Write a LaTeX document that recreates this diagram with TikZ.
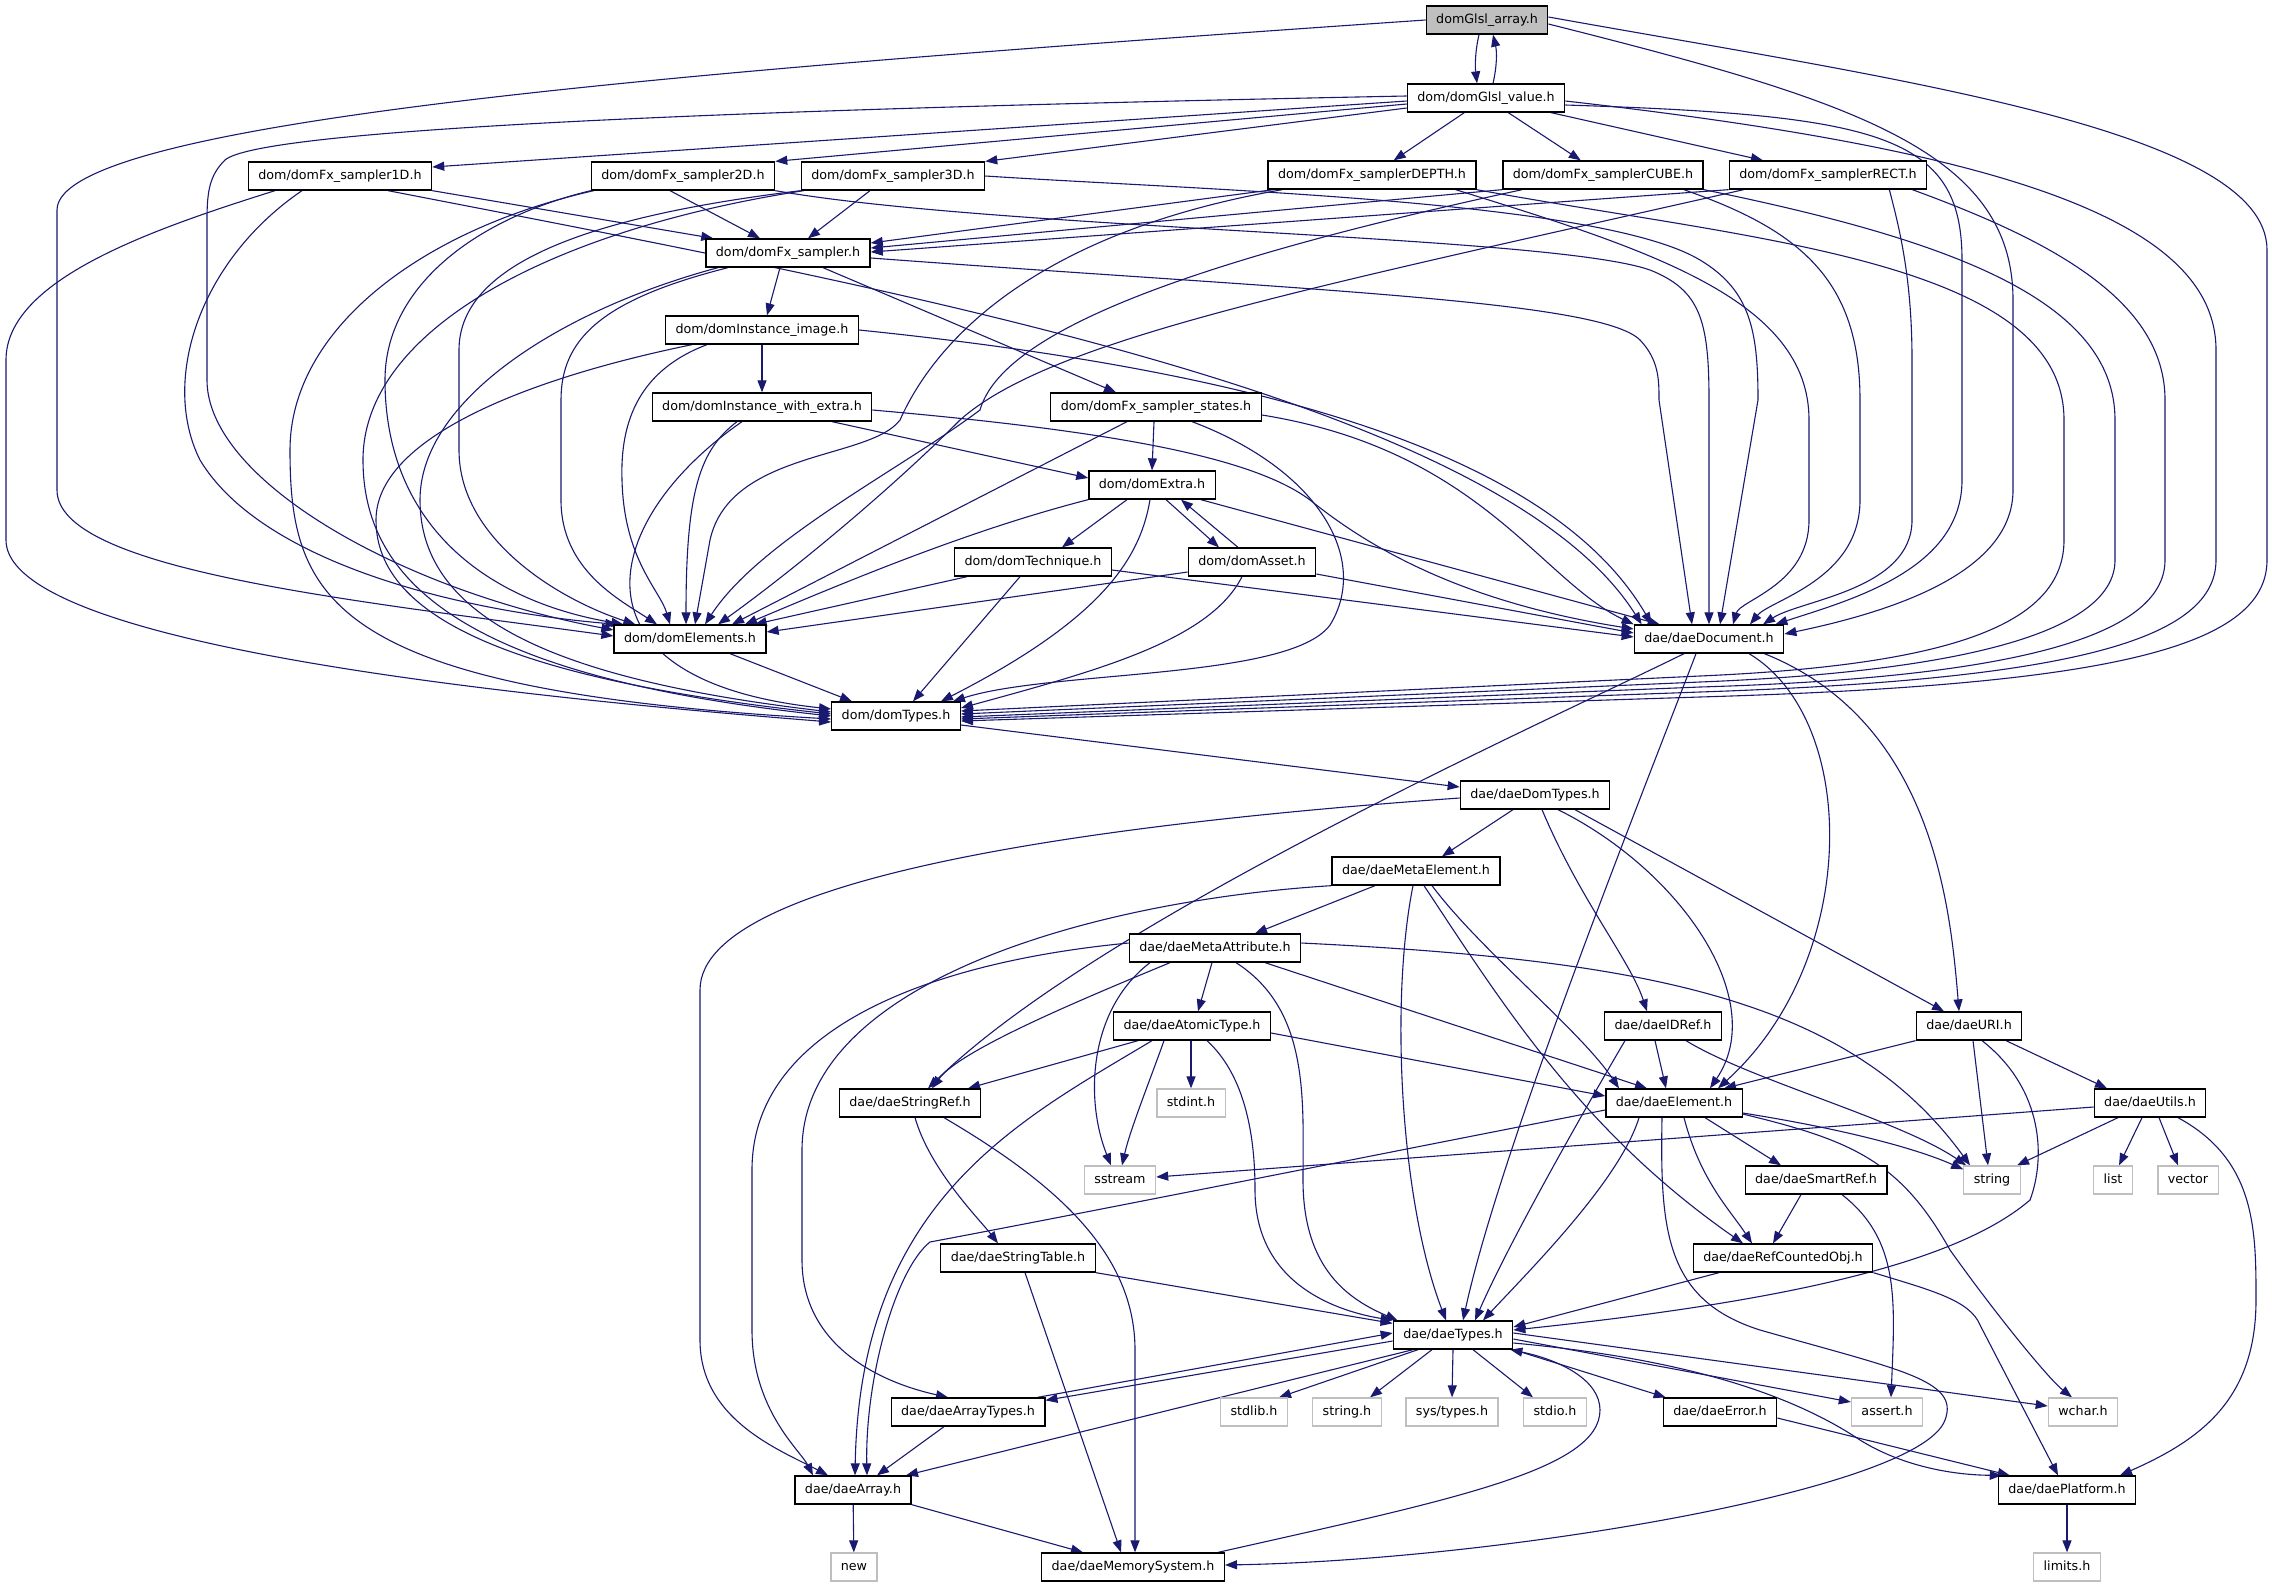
\documentclass[tikz,border=0pt]{standalone}
\usepackage{fontspec}
\newfontfamily\dvs{DejaVu Sans}
\usetikzlibrary{arrows.meta,backgrounds}
\definecolor{edgeblue}{RGB}{25,25,112}
\definecolor{sysgray}{RGB}{191,191,191}
\definecolor{rootgray}{RGB}{191,191,191}
\tikzset{
  nd/.style={draw=black, line width=1.3pt, fill=white, minimum height=28pt, inner xsep=10pt, inner ysep=0pt, text height=9.5pt, text depth=2.7pt, font=\dvs\fontsize{12.7pt}{15pt}\selectfont},
  sysnd/.style={nd, draw=sysgray},
  rootnd/.style={nd, fill=rootgray},
  edg/.style={draw=edgeblue, line width=1.1pt, -{Triangle[length=12pt,width=9pt]}},
}
\begin{document}
\begin{tikzpicture}[x=1pt,y=-1pt]
\useasboundingbox (0,0) rectangle (2272,1587);
% nodes
\node[rootnd] (arr) at (1487,20) {domGlsl\_array.h};
\node[nd] (val) at (1486,98) {dom/domGlsl\_value.h};
\node[nd] (s1) at (340,176) {dom/domFx\_sampler1D.h};
\node[nd] (s2) at (683,176) {dom/domFx\_sampler2D.h};
\node[nd] (s3) at (893,176) {dom/domFx\_sampler3D.h};
\node[nd] (sD) at (1372,175) {dom/domFx\_samplerDEPTH.h};
\node[nd] (sC) at (1603,175) {dom/domFx\_samplerCUBE.h};
\node[nd] (sR) at (1828,175) {dom/domFx\_samplerRECT.h};
\node[nd] (smp) at (788,253) {dom/domFx\_sampler.h};
\node[nd] (img) at (762,330) {dom/domInstance\_image.h};
\node[nd] (iwe) at (762,407) {dom/domInstance\_with\_extra.h};
\node[nd] (sst) at (1156,407) {dom/domFx\_sampler\_states.h};
\node[nd] (ext) at (1152,485) {dom/domExtra.h};
\node[nd] (tec) at (1033,562) {dom/domTechnique.h};
\node[nd] (ast) at (1252,562) {dom/domAsset.h};
\node[nd] (ele) at (690,639) {dom/domElements.h};
\node[nd] (doc) at (1709,639) {dae/daeDocument.h};
\node[nd] (dty) at (896,716) {dom/domTypes.h};
\node[nd] (ddt) at (1535,795) {dae/daeDomTypes.h};
\node[nd] (mel) at (1416,871) {dae/daeMetaElement.h};
\node[nd] (mat) at (1215,948) {dae/daeMetaAttribute.h};
\node[nd] (aty) at (1192,1026) {dae/daeAtomicType.h};
\node[nd] (idr) at (1663,1026) {dae/daeIDRef.h};
\node[nd] (uri) at (1969,1026) {dae/daeURI.h};
\node[nd] (sref) at (910,1103) {dae/daeStringRef.h};
\node[sysnd] (hstdint) at (1191,1103) {stdint.h};
\node[nd] (del) at (1674,1103) {dae/daeElement.h};
\node[nd] (utl) at (2150,1103) {dae/daeUtils.h};
\node[sysnd] (hsstream) at (1120,1180) {sstream};
\node[nd] (smart) at (1816,1180) {dae/daeSmartRef.h};
\node[sysnd] (hstring) at (1992,1180) {string};
\node[sysnd] (hlist) at (2113,1180) {list};
\node[sysnd] (hvector) at (2188,1180) {vector};
\node[nd] (stab) at (1018,1258) {dae/daeStringTable.h};
\node[nd] (rco) at (1783,1258) {dae/daeRefCountedObj.h};
\node[nd] (typ) at (1453,1335) {dae/daeTypes.h};
\node[nd] (arrt) at (968,1412) {dae/daeArrayTypes.h};
\node[sysnd] (hstdlib) at (1254,1412) {stdlib.h};
\node[sysnd] (hstringh) at (1347,1412) {string.h};
\node[sysnd] (hsystypes) at (1452,1412) {sys/types.h};
\node[sysnd] (hstdio) at (1555,1412) {stdio.h};
\node[nd] (err) at (1720,1412) {dae/daeError.h};
\node[sysnd] (hassert) at (1887,1412) {assert.h};
\node[sysnd] (hwchar) at (2083,1412) {wchar.h};
\node[nd] (darr) at (853,1490) {dae/daeArray.h};
\node[nd] (plat) at (2067,1490) {dae/daePlatform.h};
\node[sysnd] (hnew) at (854,1567) {new};
\node[nd] (mem) at (1133,1567) {dae/daeMemorySystem.h};
\node[sysnd] (hlimits) at (2067,1567) {limits.h};

\begin{scope}[on background layer]
\fill[white] (0,0) rectangle (2272,1587);
% top pair
\draw[edg] ([xshift=-8pt]arr.south) .. controls (1475,52) and (1475,66) .. ([xshift=-9pt]val.north);
\draw[edg] ([xshift=7pt]val.north) .. controls (1497,66) and (1497,52) .. ([xshift=6pt]arr.south);
% arr
\draw[edg] (arr.west) .. controls (700,70) and (57,120) .. (57,210) -- (57,490) .. controls (57,570) and (350,600) .. ([yshift=3pt]ele.west);
\draw[edg] ([yshift=-4pt]arr.east) .. controls (1850,100) and (2013,150) .. (2013,300) -- (2013,490) .. controls (2013,570) and (1900,610) .. ([yshift=5pt]doc.east);
\draw[edg] ([yshift=3pt]arr.east) .. controls (1900,80) and (2267,130) .. (2267,250) -- (2267,560) .. controls (2267,650) and (2100,685) .. (1700,697) -- ([yshift=-5pt]dty.east);
% val
\draw[edg] ([yshift=-3pt]val.west) -- ([yshift=9pt]s1.east);
\draw[edg] ([yshift=-6pt]val.west) -- (s2.north east);
\draw[edg] ([yshift=-10pt]val.west) -- (s3.north east);
\draw[edg] (val) -- (sD);
\draw[edg] (val) -- (sC);
\draw[edg] (val) -- (sR);
\draw[edg] ([yshift=2pt]val.west) .. controls (700,110) and (260,130) .. (225,160) .. controls (210,175) and (207,190) .. (207,220) -- (207,380) .. controls (207,480) and (400,590) .. ([yshift=9pt]ele.west);
\draw[edg] ([yshift=-7pt]val.east) .. controls (1880,115) and (1962,135) .. (1962,260) -- (1962,480) .. controls (1962,570) and (1850,600) .. ([xshift=-9pt]doc.north east);
\draw[edg] ([yshift=-3pt]val.east) .. controls (2000,150) and (2216,220) .. (2216,350) -- (2216,560) .. controls (2216,645) and (2050,680) .. (1700,692) -- ([yshift=-3pt]dty.east);
% s1
\draw[edg] (s1.south east) -- ([xshift=8pt]smp.north west);
\draw[edg] ([xshift=-38pt]s1.south) .. controls (200,260) and (160,380) .. (200,460) .. controls (260,560) and (450,610) .. ([xshift=4pt]ele.north west);
\draw[edg] ([xshift=-65pt]s1.south) .. controls (150,230) and (6,280) .. (6,360) -- (6,540) .. controls (6,620) and (300,680) .. ([yshift=-6pt]dty.west);
\draw[edg] ([xshift=48pt]s1.south) .. controls (900,290) and (1500,400) .. ([xshift=8pt]doc.north west);
% s2
\draw[edg] ([xshift=-13pt]s2.south) -- ([xshift=-28pt]smp.north);
\draw[edg] (s2.south west) .. controls (470,220) and (385,290) .. (385,380) .. controls (385,520) and (480,600) .. ([xshift=10pt]ele.north west);
\draw[edg] ([xshift=3pt]s2.south west) .. controls (420,230) and (290,330) .. (290,450) .. controls (290,600) and (330,690) .. ([yshift=-3pt]dty.west);
\draw[edg] (s2.south east) .. controls (1000,230) and (1550,235) .. (1650,270) .. controls (1700,290) and (1709,320) .. (1709,400) -- (doc.north);
% s3
\draw[edg] ([xshift=-23pt]s3.south) -- ([xshift=20pt]smp.north);
\draw[edg] (s3.south west) .. controls (600,215) and (459,260) .. (459,350) -- (459,450) .. controls (459,540) and (560,600) .. ([xshift=22pt]ele.north west);
\draw[edg] ([xshift=3pt]s3.south west) .. controls (550,230) and (363,330) .. (363,460) .. controls (363,600) and (500,680) .. (dty.west);
\draw[edg] (s3.east) .. controls (1200,190) and (1600,200) .. (1700,260) .. controls (1750,290) and (1758,330) .. (1758,400) -- ([xshift=11pt]doc.north);
% DEPTH
\draw[edg] ([xshift=6pt]sD.south west) -- ([yshift=10pt]smp.east);
\draw[edg] ([xshift=15pt]sD.south west) .. controls (1050,230) and (940,330) .. (900,420) .. controls (870,460) and (730,450) .. (710,540) -- ([xshift=5pt]ele.north);
\draw[edg] ([xshift=-21pt]sD.south east) .. controls (1650,250) and (1809,300) .. (1809,420) -- (1809,520) .. controls (1809,585) and (1740,600) .. ([xshift=24pt]doc.north);
\draw[edg] (sD.south east) .. controls (1750,240) and (2064,260) .. (2064,420) -- (2064,540) .. controls (2064,625) and (1950,665) .. (1700,676) -- ([yshift=5pt]dty.east);
% CUBE
\draw[edg] (sC.south west) -- ([yshift=5pt]smp.east);
\draw[edg] ([xshift=20pt]sC.south west) .. controls (1150,270) and (1000,340) .. (980,410) .. controls (900,470) and (760,540) .. ([xshift=15pt]ele.north);
\draw[edg] ([xshift=-20pt]sC.south east) .. controls (1800,230) and (1860,280) .. (1860,400) -- (1860,500) .. controls (1860,580) and (1770,600) .. ([xshift=41pt]doc.north);
\draw[edg] (sC.south east) .. controls (1950,240) and (2115,300) .. (2115,420) -- (2115,560) .. controls (2115,635) and (1950,672) .. (1700,682) -- ([yshift=2pt]dty.east);
% RECT
\draw[edg] (sR.south west) -- ([yshift=1pt]smp.east);
\draw[edg] ([xshift=15pt]sR.south west) .. controls (1300,290) and (1050,340) .. (960,420) .. controls (880,500) and (780,580) .. ([xshift=28pt]ele.north);
\draw[edg] ([xshift=-38pt]sR.south east) .. controls (1900,230) and (1912,280) .. (1912,360) -- (1912,520) .. controls (1912,590) and (1800,600) .. ([xshift=54pt]doc.north);
\draw[edg] ([xshift=-15pt]sR.south east) .. controls (2050,240) and (2165,300) .. (2165,400) -- (2165,560) .. controls (2165,640) and (2000,678) .. (1700,687) -- ([yshift=-1pt]dty.east);
% smp
\draw[edg] ([xshift=-8pt]smp.south) -- ([xshift=5pt]img.north);
\draw[edg] ([xshift=35pt]smp.south) -- ([xshift=-40pt]sst.north);
\draw[edg] ([xshift=-60pt]smp.south) .. controls (600,300) and (561,340) .. (561,400) -- (561,500) .. controls (561,570) and (620,600) .. ([xshift=-33pt]ele.north);
\draw[edg] ([xshift=-70pt]smp.south) .. controls (560,310) and (420,400) .. (420,500) .. controls (420,620) and (560,680) .. ([yshift=4pt]dty.west);
\draw[edg] ([yshift=-5pt]smp.east) .. controls (1300,290) and (1600,300) .. (1640,340) .. controls (1659,360) and (1659,380) .. (1659,400) -- ([xshift=-17pt]doc.north);
% img
\draw[edg] (img) -- (iwe);
\draw[edg] ([xshift=-55pt]img.south) .. controls (640,370) and (620,420) .. (622,480) .. controls (624,560) and (660,590) .. ([xshift=-20pt]ele.north);
\draw[edg] ([xshift=-70pt]img.south) .. controls (520,380) and (376,440) .. (376,520) .. controls (376,620) and (520,680) .. ([yshift=2pt]dty.west);
\draw[edg] (img.east) .. controls (1250,370) and (1550,450) .. ([xshift=18pt]doc.north west);
% iwe
\draw[edg] ([xshift=70pt]iwe.south) -- ([yshift=7pt]ext.west);
\draw[edg] ([xshift=-25pt]iwe.south) .. controls (700,450) and (686,490) .. ([xshift=-4pt]ele.north);
\draw[edg] ([xshift=-20pt]iwe.south) .. controls (600,520) and (560,680) .. ([yshift=7pt]dty.west);
\draw[edg] ([yshift=-3pt]iwe.east) .. controls (1100,430) and (1250,455) .. (1310,500) .. controls (1360,540) and (1450,600) .. ([yshift=10pt]doc.west);
% sst
\draw[edg] ([xshift=-2pt]sst.south) -- (ext.north);
\draw[edg] ([xshift=-29pt]sst.south) -- ([xshift=42pt]ele.north);
\draw[edg] ([xshift=36pt]sst.south) .. controls (1320,470) and (1370,560) .. (1330,625) .. controls (1290,680) and (1050,670) .. ([xshift=-8pt]dty.north east);
\draw[edg] ([yshift=-8pt]sst.east) .. controls (1480,450) and (1540,580) .. (doc.north west);
% ext
\draw[edg] ([xshift=-25pt]ext.south) -- ([xshift=29pt]tec.north);
\draw[edg] ([xshift=14pt]ext.south) -- ([xshift=-33pt]ast.north);
\draw[edg] ([xshift=-14pt]ast.north) -- ([xshift=29pt]ext.south);
\draw[edg] (ext.south west) .. controls (970,530) and (850,580) .. ([xshift=55pt]ele.north);
\draw[edg] ([xshift=-2pt]ext.south) .. controls (1140,560) and (1100,620) .. ([xshift=-20pt]dty.north east);
\draw[edg] ([xshift=-15pt]ext.south east) -- ([xshift=26pt]doc.north west);
% tec
\draw[edg] ([xshift=-66pt]tec.south) -- ([xshift=-12pt]ele.north east);
\draw[edg] ([xshift=-13pt]tec.south) -- ([xshift=17pt]dty.north);
\draw[edg] ([yshift=-8pt]tec.east) -- ([yshift=2pt]doc.west);
% ast
\draw[edg] ([yshift=-10pt]ast.west) -- ([yshift=7pt]ele.east);
\draw[edg] ([xshift=-10pt]ast.south) .. controls (1210,640) and (1100,670) .. ([yshift=8pt]dty.east);
\draw[edg] ([yshift=-12pt]ast.east) -- ([yshift=6pt]doc.west);
% ele, dty
\draw[edg] ([xshift=40pt]ele.south) -- ([xshift=-44pt]dty.north);
\draw[edg] ([yshift=-9pt]dty.east) -- ([yshift=8pt]ddt.west);
% doc bottom
\draw[edg] ([xshift=-25pt]doc.south) .. controls (1550,720) and (1100,920) .. ([xshift=18pt]sref.north);
\draw[edg] ([xshift=-13pt]doc.south) .. controls (1640,800) and (1500,1150) .. ([xshift=10pt]typ.north);
\draw[edg] ([xshift=40pt]doc.south) .. controls (1860,720) and (1860,960) .. ([xshift=44pt]del.north);
\draw[edg] ([xshift=-20pt]doc.south east) .. controls (1930,720) and (1950,900) .. ([xshift=-10pt]uri.north);
% ddt
\draw[edg] ([xshift=-22pt]ddt.south) -- ([xshift=26pt]mel.north);
\draw[edg] ([xshift=7pt]ddt.south) .. controls (1580,900) and (1630,960) .. ([xshift=-16pt]idr.north);
\draw[edg] ([xshift=23pt]ddt.south) .. controls (1680,870) and (1770,1000) .. ([xshift=36pt]del.north);
\draw[edg] ([xshift=40pt]ddt.south) -- ([xshift=-25pt]uri.north);
\draw[edg] ([yshift=-3pt]ddt.west) .. controls (1150,820) and (700,870) .. (700,990) -- (700,1340) .. controls (700,1420) and (780,1450) .. ([xshift=-25pt]darr.north);
% mel
\draw[edg] ([xshift=-41pt]mel.south) -- ([xshift=40pt]mat.north);
\draw[edg] (mel.south west) .. controls (1100,900) and (802,980) .. (802,1150) -- (802,1260) .. controls (802,1340) and (870,1380) .. ([xshift=-20pt]arrt.north);
\draw[edg] ([xshift=-3pt]mel.south) .. controls (1390,1000) and (1400,1200) .. ([xshift=-7pt]typ.north);
\draw[edg] ([xshift=16pt]mel.south) .. controls (1480,950) and (1580,1030) .. ([xshift=-55pt]del.north);
\draw[edg] ([xshift=8pt]mel.south) .. controls (1500,1000) and (1580,1130) .. ([xshift=-40pt]rco.north);
% mat
\draw[edg] ([xshift=-3pt]mat.south) -- ([xshift=6pt]aty.north);
\draw[edg] ([xshift=-45pt]mat.south) .. controls (1080,1000) and (960,1050) .. ([xshift=22pt]sref.north);
\draw[edg] ([xshift=-65pt]mat.south) .. controls (1088,1010) and (1085,1100) .. ([xshift=-9pt]hsstream.north);
\draw[edg] ([xshift=21pt]mat.south) .. controls (1310,1010) and (1303,1100) .. (1303,1180) .. controls (1303,1270) and (1350,1300) .. ([xshift=5pt]typ.north west);
\draw[edg] ([xshift=50pt]mat.south) -- ([xshift=-27pt]del.north);
\draw[edg] ([yshift=5pt]mat.east) .. controls (1650,960) and (1850,1000) .. ([xshift=-22pt]hstring.north);
\draw[edg] ([yshift=5pt]mat.west) .. controls (950,960) and (752,1020) .. (752,1170) -- (752,1330) .. controls (752,1410) and (800,1450) .. ([xshift=-40pt]darr.north);
% aty
\draw[edg] ([xshift=-54pt]aty.south) -- ([xshift=58pt]sref.north);
\draw[edg] ([xshift=-1pt]aty.south) -- (hstdint.north);
\draw[edg] ([xshift=-28pt]aty.south) .. controls (1150,1080) and (1130,1130) .. ([xshift=2pt]hsstream.north);
\draw[edg] ([xshift=15pt]aty.south) .. controls (1250,1080) and (1255,1150) .. (1255,1190) .. controls (1255,1280) and (1330,1310) .. (typ.north west);
\draw[edg] ([yshift=-7pt]aty.east) -- ([yshift=7pt]del.west);
\draw[edg] ([xshift=-40pt]aty.south) .. controls (1020,1120) and (860,1200) .. ([xshift=2pt]darr.north);
% idr
\draw[edg] ([xshift=-8pt]idr.south) -- ([xshift=-8pt]del.north);
\draw[edg] ([xshift=-38pt]idr.south) .. controls (1590,1100) and (1510,1240) .. ([xshift=22pt]typ.north);
\draw[edg] ([xshift=23pt]idr.south) .. controls (1750,1080) and (1900,1120) .. ([xshift=3pt]hstring.north west);
% uri
\draw[edg] (uri.south west) -- ([xshift=50pt]del.north);
\draw[edg] ([xshift=4pt]uri.south) -- ([xshift=-4pt]hstring.north);
\draw[edg] ([xshift=13pt]uri.south) .. controls (2045,1090) and (2045,1160) .. (2030,1200) .. controls (1960,1260) and (1800,1300) .. ([yshift=5pt]typ.east);
\draw[edg] ([xshift=37pt]uri.south) -- ([xshift=-43pt]utl.north);
% utl
\draw[edg] ([yshift=-4pt]utl.west) -- ([yshift=3pt]hsstream.east);
\draw[edg] ([xshift=-32pt]utl.south) -- ([xshift=25pt]hstring.north);
\draw[edg] ([xshift=-8pt]utl.south) -- ([xshift=6pt]hlist.north);
\draw[edg] ([xshift=9pt]utl.south) -- ([xshift=-10pt]hvector.north);
\draw[edg] ([xshift=28pt]utl.south) .. controls (2256,1160) and (2256,1230) .. (2256,1300) .. controls (2256,1400) and (2200,1440) .. ([xshift=53pt]plat.north);
% sref, stab
\draw[edg] ([xshift=5pt]sref.south) .. controls (930,1170) and (980,1220) .. ([xshift=-20pt]stab.north);
\draw[edg] ([xshift=34pt]sref.south) .. controls (1050,1180) and (1135,1250) .. (1135,1350) -- ([xshift=2pt]mem.north);
\draw[edg] (stab.south east) -- ([yshift=-3pt]typ.north west);
\draw[edg] ([xshift=7pt]stab.south) -- ([xshift=-12pt]mem.north);
% del
\draw[edg] ([xshift=-35pt]del.south) .. controls (1620,1180) and (1530,1270) .. ([xshift=30pt]typ.north);
\draw[edg] ([yshift=-7pt]del.west) .. controls (1400,1150) and (1100,1210) .. (930,1242) .. controls (895,1270) and (865,1380) .. ([xshift=14pt]darr.north);
\draw[edg] ([yshift=-10pt]del.east) .. controls (1850,1130) and (1920,1150) .. ([yshift=-4pt]hstring.north west);
\draw[edg] ([yshift=-11pt]del.east) .. controls (1850,1140) and (1900,1160) .. (1950,1250) .. controls (2000,1320) and (2050,1380) .. ([xshift=-11pt]hwchar.north);
\draw[edg] ([xshift=31pt]del.south) -- ([xshift=-35pt]smart.north);
\draw[edg] ([xshift=10pt]del.south) .. controls (1700,1180) and (1730,1210) .. ([xshift=-31pt]rco.north);
\draw[edg] ([xshift=-12pt]del.south) .. controls (1660,1230) and (1665,1300) .. (1760,1330) .. controls (1900,1370) and (1960,1380) .. (1945,1420) .. controls (1920,1490) and (1500,1560) .. ([yshift=2pt]mem.east);
% smart, rco
\draw[edg] ([xshift=-15pt]smart.south) -- ([xshift=-10pt]rco.north);
\draw[edg] ([xshift=26pt]smart.south) .. controls (1900,1240) and (1895,1300) .. ([xshift=4pt]hassert.north);
\draw[edg] ([xshift=-64pt]rco.south) -- ([yshift=8pt]typ.east);
\draw[edg] (rco.south east) .. controls (1930,1290) and (1970,1300) .. (1980,1325) -- ([xshift=-9pt]plat.north);
% typ
\draw[edg] ([yshift=-6pt]typ.west) -- ([yshift=-3pt]arrt.north east);
\draw[edg] ([xshift=-8pt]arrt.north east) -- ([yshift=2pt]typ.west);
\draw[edg] ([xshift=-40pt]typ.south) -- ([xshift=53pt]darr.north);
\draw[edg] ([xshift=-35pt]typ.south) -- ([xshift=25pt]hstdlib.north);
\draw[edg] ([xshift=-21pt]typ.south) -- ([xshift=23pt]hstringh.north);
\draw[edg] (typ.south) -- (hsystypes.north);
\draw[edg] ([xshift=20pt]typ.south) -- ([xshift=-22pt]hstdio.north);
\draw[edg] (typ.south east) -- ([xshift=3pt]err.north west);
\draw[edg] ([yshift=-4pt]typ.east) -- ([yshift=10pt]hassert.west);
\draw[edg] ([yshift=2pt]typ.east) -- ([yshift=6pt]hwchar.west);
\draw[edg] ([yshift=-8pt]typ.east) .. controls (1700,1360) and (1800,1400) .. (1860,1440) .. controls (1900,1465) and (1950,1475) .. ([xshift=4pt]plat.north west);
\draw[edg] ([yshift=-6pt]err.east) -- ([xshift=12pt]plat.north west);
\draw[edg] ([xshift=-24pt]arrt.south) -- ([xshift=24pt]darr.north);
\draw[edg] (darr) -- (hnew);
\draw[edg] (darr.south east) -- ([xshift=-50pt]mem.north);
\draw[edg] ([xshift=85pt]mem.north) .. controls (1450,1500) and (1600,1470) .. (1600,1410) .. controls (1600,1380) and (1560,1360) .. ([xshift=-3pt]typ.south east);
\draw[edg] (plat) -- (hlimits);
\end{scope}
\end{tikzpicture}
\end{document}
